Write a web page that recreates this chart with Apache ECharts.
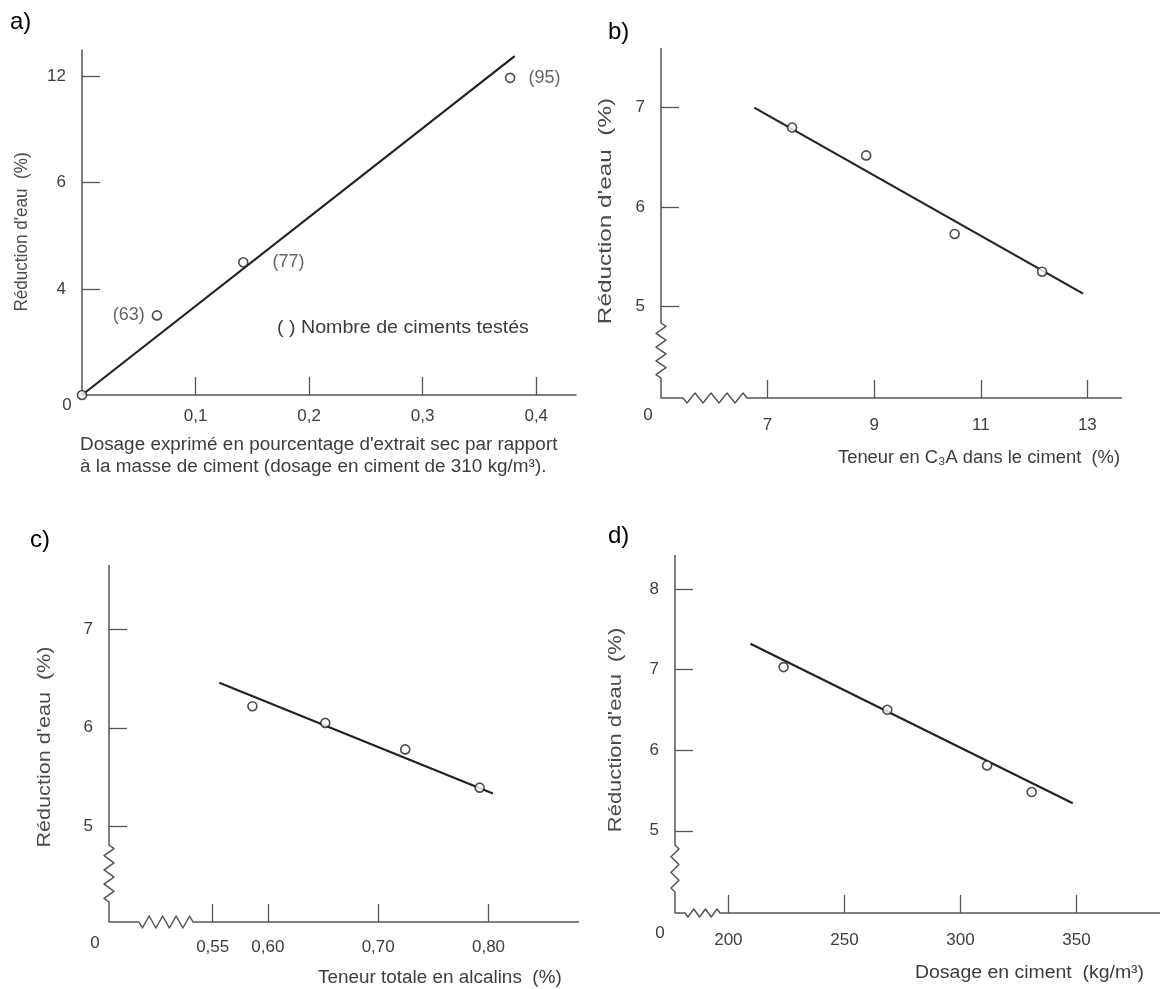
<!DOCTYPE html>
<html><head><meta charset="utf-8">
<script src="https://cdn.jsdelivr.net/npm/echarts@6/dist/echarts.min.js"></script>
<style>html,body{margin:0;padding:0;background:#fff}#c{width:1173px;height:989px}</style>
</head><body><div id="c"></div>
<script>
// ---------- DATA ----------
// a) dosage vs water reduction
const aX = [0, 0.066, 0.142, 0.377];
const aY = [0, 3.0, 5.0, 11.95];
const aCounts = ['', '(63)', '(77)', '(95)'];
const aFitX = [0, 0.381];
const aFitY = [0, 12.77];
const aXTicks = [0.1, 0.2, 0.3, 0.4];
const aXTickLabels = ['0,1', '0,2', '0,3', '0,4'];
const aYTicks = [4, 8, 12];
const aYTickLabels = ['4', '6', '12'];

// b) C3A content
const bX = [7.46, 8.85, 10.51, 12.15];
const bY = [6.80, 6.52, 5.73, 5.35];
const bFitX = [6.75, 12.92];
const bFitY = [7.0, 5.13];
const bXTicks = [7, 9, 11, 13];
const bXTickLabels = ['7', '9', '11', '13'];
const bYTicks = [5, 6, 7];
const bYTickLabels = ['5', '6', '7'];

// c) alkali content
const cX = [0.586, 0.652, 0.7245, 0.792];
const cY = [6.22, 6.05, 5.78, 5.39];
const cFitX = [0.556, 0.804];
const cFitY = [6.46, 5.33];
const cXTicks = [0.55, 0.60, 0.70, 0.80];
const cXTickLabels = ['0,55', '0,60', '0,70', '0,80'];
const cYTicks = [5, 6, 7];
const cYTickLabels = ['5', '6', '7'];

// d) cement dosage
const dX = [223.8, 268.5, 311.5, 330.7];
const dY = [7.03, 6.50, 5.81, 5.48];
const dFitX = [209.5, 348.4];
const dFitY = [7.32, 5.34];
const dXTicks = [200, 250, 300, 350];
const dXTickLabels = ['200', '250', '300', '350'];
const dYTicks = [5, 6, 7, 8];
const dYTickLabels = ['5', '6', '7', '8'];

const yName = "Réduction d'eau  (%)";

// ---------- LAYOUT ----------
const FONT = '"Liberation Sans", Arial, sans-serif';
const AX = '#555', TXT = '#3d3d3d', INK = '#222';
const panels = [
  {grid:{left:82, top:50, width:494, height:345}, x:[0,0.435], y:[0,13],
   xt:aXTicks, xl:aXTickLabels, yt:aYTicks, yl:aYTickLabels, xMargin:13,
   brk:null, zero:[-15,10]},
  {grid:{left:661, top:48, width:461, height:350}, x:[5,13.65], y:[4.08,7.6],
   xt:bXTicks, xl:bXTickLabels, yt:bYTicks, yl:bYTickLabels, xMargin:19,
   brk:{y:[20,75,4,5], x:[22,86,4,5]}, zero:[-13,17]},
  {grid:{left:109, top:565, width:470, height:357}, x:[0.456,0.882], y:[4.02,7.66],
   xt:cXTicks, xl:cXTickLabels, yt:cYTicks, yl:cYTickLabels, xMargin:17,
   brk:{y:[20,77,4,5], x:[30,84,4,6]}, zero:[-14,21]},
  {grid:{left:675, top:555, width:485, height:358}, x:[177,386], y:[3.98,8.42],
   xt:dXTicks, xl:dXTickLabels, yt:dYTicks, yl:dYTickLabels, xMargin:19,
   brk:{y:[21,68,3,4], x:[10,45,3,4]}, zero:[-15,20]}
];
const seriesData = [
  {px:aX, py:aY, fx:aFitX, fy:aFitY},
  {px:bX, py:bY, fx:bFitX, fy:bFitY},
  {px:cX, py:cY, fx:cFitX, fy:cFitY},
  {px:dX, py:dY, fx:dFitX, fy:dFitY}
];

function zig(p0, p1, n, amp, vertical) {
  const pts = [];
  for (let k = 0; k < 2 * n; k++) {
    const t = (2 * k + 1) / (4 * n);
    const s = (k % 2 === 0 ? 1 : -1) * amp;
    const x = p0[0] + (p1[0] - p0[0]) * t;
    const y = p0[1] + (p1[1] - p0[1]) * t;
    pts.push(vertical ? [x + s, y] : [x, y + s]);
  }
  return pts;
}

const grids = [], xAxes = [], yAxes = [], series = [];
panels.forEach((p, i) => {
  grids.push(Object.assign({outerBoundsMode:'none', containLabel:false}, p.grid));
  xAxes.push({
    type:'value', gridIndex:i, min:p.x[0], max:p.x[1],
    axisLine:{show: !p.brk, onZero:false, lineStyle:{color:AX, width:1.5}},
    axisTick:{show:true, inside:true, length:18, customValues:p.xt, lineStyle:{color:AX, width:1.3}},
    axisLabel:{customValues:p.xt, margin:p.xMargin, color:TXT, fontSize:17, fontFamily:FONT,
      formatter:(v) => { const j = p.xt.findIndex(t => Math.abs(t - v) < 1e-9); return j >= 0 ? p.xl[j] : ''; }},
    splitLine:{show:false}
  });
  yAxes.push({
    type:'value', gridIndex:i, min:p.y[0], max:p.y[1],
    axisLine:{show: !p.brk, onZero:false, lineStyle:{color:AX, width:1.5}},
    axisTick:{show:true, inside:true, length:18, customValues:p.yt, lineStyle:{color:AX, width:1.3}},
    axisLabel:{customValues:p.yt, margin:16, color:TXT, fontSize:17, fontFamily:FONT,
      formatter:(v) => { const j = p.yt.findIndex(t => Math.abs(t - v) < 1e-9); return j >= 0 ? p.yl[j] : ''; }},
    splitLine:{show:false}
  });
  series.push({
    type:'custom', xAxisIndex:i, yAxisIndex:i, silent:true, clip:false, z:1,
    data:[[p.x[0], p.y[0]]],
    renderItem:(params, api) => {
      const o = api.coord([p.x[0], p.y[0]]);
      const children = [];
      if (p.brk) {
        const top = api.coord([p.x[0], p.y[1]]);
        const right = api.coord([p.x[1], p.y[0]]);
        const yb = p.brk.y, xb = p.brk.x;
        const a1 = [o[0], o[1] - yb[1]], a0 = [o[0], o[1] - yb[0]];
        const b0 = [o[0] + xb[0], o[1]], b1 = [o[0] + xb[1], o[1]];
        const pts = [top, a1].concat(zig(a1, a0, yb[2], yb[3], true), [a0, o, b0],
          zig(b0, b1, xb[2], xb[3], false), [b1, right]);
        children.push({type:'polyline', shape:{points:pts},
          style:{stroke:AX, lineWidth:1.5, fill:null, lineJoin:'round'}});
      }
      children.push({type:'text', x:o[0] + p.zero[0], y:o[1] + p.zero[1],
        style:{text:'0', fill:TXT, font:'17px ' + FONT, align:'center', verticalAlign:'middle'}});
      return {type:'group', children};
    }
  });
  const sd = seriesData[i];
  series.push({
    type:'line', xAxisIndex:i, yAxisIndex:i, showSymbol:false, silent:true, z:3,
    data:sd.fx.map((x, k) => [x, sd.fy[k]]),
    lineStyle:{color:INK, width:2.2}
  });
  series.push({
    type:'scatter', xAxisIndex:i, yAxisIndex:i, z:4, symbol:'circle', symbolSize:9,
    itemStyle:{color:'#fff', borderColor:INK, borderWidth:1.6},
    data:sd.px.map((x, k) => {
      const item = {value:[x, sd.py[k]]};
      if (i === 0 && aCounts[k]) {
        item.label = {show:true, formatter:aCounts[k], position: k === 1 ? 'left' : 'right',
          distance: k === 1 ? 7 : (k === 2 ? 24 : 13), color:TXT, fontSize:18, fontFamily:FONT};
      }
      return item;
    })
  });
});

// text helper: x,y anchor; size font px; sx horizontal stretch; rot rotation
const T = (text, x, y, size, sx, opts, rot) => ({type:'text', x, y, silent:true,
  rotation: rot || 0, scaleX: sx || 1,
  style:Object.assign({text, fill:TXT, font:size + 'px ' + FONT, align:'left', verticalAlign:'middle'}, opts || {})});
const YN = (x, y, size, sx) => T(yName, x, y, size, sx, {align:'center', fill:'#4a4a4a'}, Math.PI / 2);

const chart = echarts.init(document.getElementById('c'), null, {renderer:'canvas'});
chart.setOption({
  backgroundColor:'#fff',
  animation:false,
  grid:grids, xAxis:xAxes, yAxis:yAxes, series,
  graphic:[
    T('a)', 10, 22, 24, 1, {fill:'#000'}),
    T('b)', 608, 32, 24, 1, {fill:'#000'}),
    T('c)', 30, 540, 24, 1, {fill:'#000'}),
    T('d)', 608, 536, 24, 1, {fill:'#000'}),
    YN(22, 232, 18, 0.95),
    YN(606, 211, 19, 1.28),
    YN(45, 747, 18, 1.2),
    YN(616, 730, 18, 1.22),
    T('( ) Nombre de ciments testés', 277, 328, 18, 1.09),
    T("Dosage exprimé en pourcentage d'extrait sec par rapport", 80, 445, 18, 1.05),
    T('à la masse de ciment (dosage en ciment de 310 kg/m³).', 80, 467, 18, 1.05),
    T('Teneur en C₃A dans le ciment  (%)', 1120, 458, 18, 1.02, {align:'right'}),
    T('Teneur totale en alcalins  (%)', 318, 978, 18, 1.05),
    T('Dosage en ciment  (kg/m³)', 915, 973, 18, 1.08)
  ]
});
</script>
</body></html>
